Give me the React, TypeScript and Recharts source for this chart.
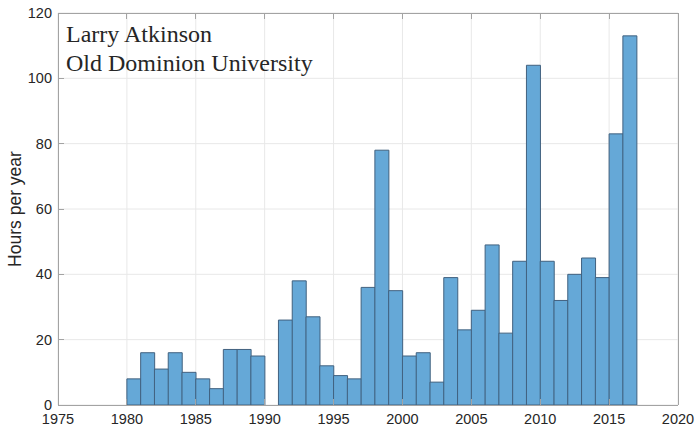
import React from 'react';
import { BarChart, Bar, XAxis, YAxis, CartesianGrid } from 'recharts';

const years: number[] = [
  1980, 1981, 1982, 1983, 1984, 1985, 1986, 1987, 1988, 1989,
  1990, 1991, 1992, 1993, 1994, 1995, 1996, 1997, 1998, 1999,
  2000, 2001, 2002, 2003, 2004, 2005, 2006, 2007, 2008, 2009,
  2010, 2011, 2012, 2013, 2014, 2015, 2016,
];
const hours: number[] = [
  8, 16, 11, 16, 10, 8, 5, 17, 17, 15,
  0, 26, 38, 27, 12, 9, 8, 36, 78, 35,
  15, 16, 7, 39, 23, 29, 49, 22, 44, 104,
  44, 32, 40, 45, 39, 83, 113,
];
const xTicks: number[] = [1975, 1980, 1985, 1990, 1995, 2000, 2005, 2010, 2015, 2020];
const yTicks: number[] = [0, 20, 40, 60, 80, 100, 120];
const firstYear = 1975;
const lastYear = 2020;
const annotationLines: string[] = ['Larry Atkinson', 'Old Dominion University'];

const data: { year: number; h: number | null }[] = [];
for (let y = firstYear; y < lastYear; y++) {
  const i = years.indexOf(y);
  const v = i >= 0 ? hours[i] : null;
  data.push({ year: y, h: v && v > 0 ? v : null });
}

const AXIS = '#a3a3a3';
const TEXT = '#262626';
const FONT = '"Liberation Sans", Arial, Helvetica, sans-serif';
const axisLineStyle = { stroke: AXIS, shapeRendering: 'crispEdges' } as any;

const BottomTick = (p: any) => (
  <g>
    <line x1={p.x} y1={p.y} x2={p.x} y2={p.y - 6} stroke={AXIS} shapeRendering="crispEdges" />
    <text x={p.x} y={p.y + 19} textAnchor="middle" fontSize={14.5} fill={TEXT} fontFamily={FONT}>
      {p.payload.value}
    </text>
  </g>
);
const TopTick = (p: any) => (
  <line x1={p.x} y1={p.y} x2={p.x} y2={p.y + 6} stroke={AXIS} shapeRendering="crispEdges" />
);
const LeftTick = (p: any) => (
  <g>
    <line x1={p.x} y1={p.y} x2={p.x + 6} y2={p.y} stroke={AXIS} shapeRendering="crispEdges" />
    <text x={p.x - 6} y={p.y + 5} textAnchor="end" fontSize={14.5} fill={TEXT} fontFamily={FONT}>
      {p.payload.value}
    </text>
  </g>
);
const RightTick = (p: any) => (
  <line x1={p.x} y1={p.y} x2={p.x - 6} y2={p.y} stroke={AXIS} shapeRendering="crispEdges" />
);

const YLabel = (p: any) => {
  const vb = p.viewBox;
  const cx = 15;
  const cy = vb.y + vb.height / 2;
  return (
    <text
      x={cx}
      y={cy}
      transform={`rotate(-90 ${cx} ${cy})`}
      textAnchor="middle"
      dominantBaseline="central"
      fontSize={17.5}
      fill={TEXT}
      fontFamily={FONT}
    >
      Hours per year
    </text>
  );
};

export default function App() {
  return (
    <div style={{ position: 'absolute', left: 0, top: 0, width: 697, height: 428, background: '#fff' }}>
      <BarChart
        width={697}
        height={428}
        data={data}
        margin={{ top: 12, right: 18, bottom: 0, left: 0 }}
        barCategoryGap={0}
        barGap={0}
      >
        <CartesianGrid xAxisId="num" yAxisId="left" stroke="#e8e8e8" />
        <XAxis
          xAxisId="num"
          dataKey="year"
          type="number"
          domain={[firstYear, lastYear]}
          ticks={xTicks}
          allowDataOverflow
          height={23}
          axisLine={axisLineStyle}
          tickSize={0}
          tickMargin={0}
          tickLine={false}
          tick={<BottomTick />}
          interval={0}
        />
        <XAxis xAxisId="cat" dataKey="year" type="category" hide height={0} />
        <XAxis
          xAxisId="top"
          orientation="top"
          dataKey="year"
          type="number"
          domain={[firstYear, lastYear]}
          ticks={xTicks}
          allowDataOverflow
          height={1}
          axisLine={axisLineStyle}
          tickSize={0}
          tickMargin={0}
          tickLine={false}
          tick={<TopTick />}
          interval={0}
        />
        <YAxis
          yAxisId="left"
          domain={[0, 120]}
          ticks={yTicks}
          width={58}
          axisLine={axisLineStyle}
          tickSize={0}
          tickMargin={0}
          tickLine={false}
          tick={<LeftTick />}
          interval={0}
          label={<YLabel />}
        />
        <YAxis
          yAxisId="right"
          orientation="right"
          domain={[0, 120]}
          ticks={yTicks}
          width={1}
          axisLine={axisLineStyle}
          tickSize={0}
          tickMargin={0}
          tickLine={false}
          tick={<RightTick />}
          interval={0}
        />
        <Bar
          dataKey="h"
          xAxisId="cat"
          yAxisId="left"
          fill="#65a8d7"
          stroke="#41617f"
          strokeWidth={1}
          isAnimationActive={false}
        />
      </BarChart>
      <div
        style={{
          position: 'absolute',
          left: 66,
          top: 20,
          fontFamily: '"Liberation Serif", "Times New Roman", serif',
          fontSize: 24,
          lineHeight: '29px',
          color: TEXT,
          pointerEvents: 'none',
        }}
      >
        {annotationLines.map((t) => (
          <div key={t}>{t}</div>
        ))}
      </div>
    </div>
  );
}
